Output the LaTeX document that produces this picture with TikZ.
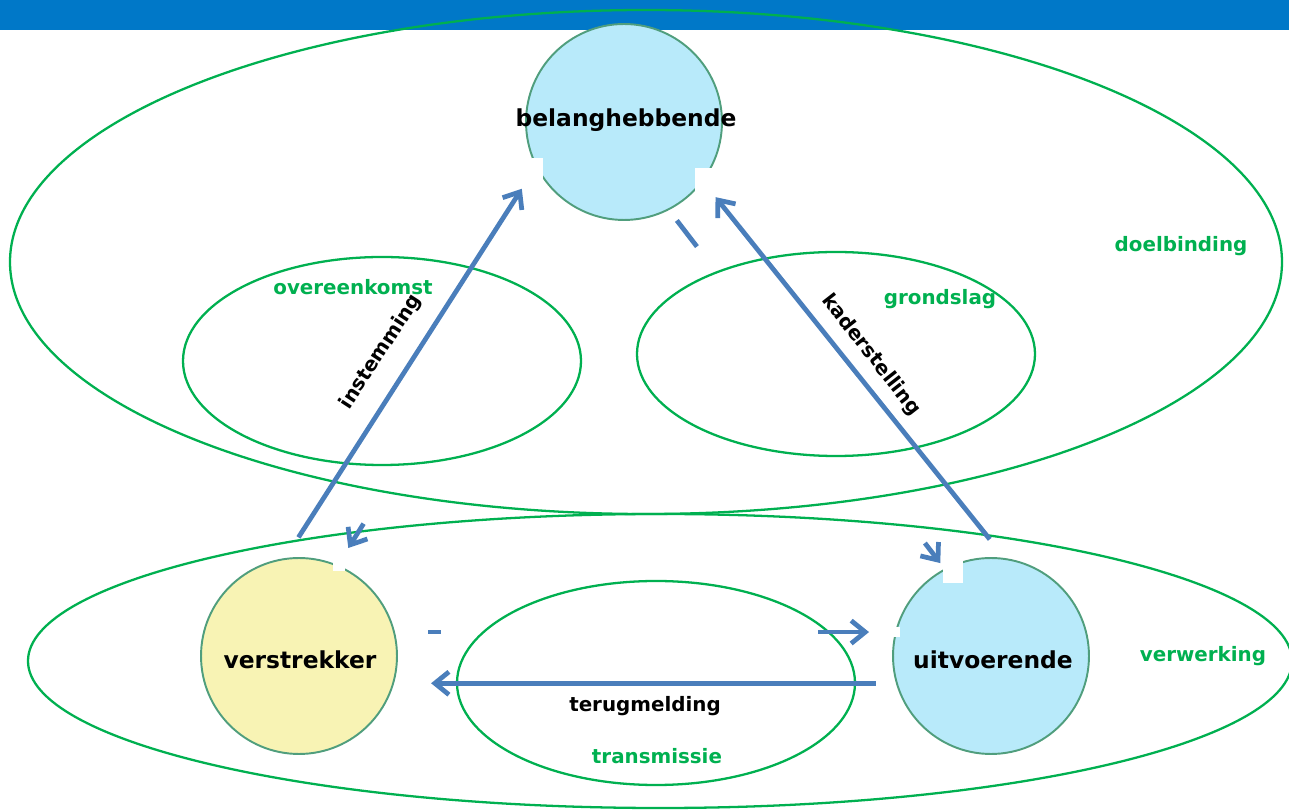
\documentclass[tikz,border=0pt]{standalone}
\usepackage{fontspec}
\setmainfont{DejaVu Sans}
\usetikzlibrary{positioning, arrows.meta}
\tikzstyle{pixelGrid} = [x = .02cm, y = -.02cm]
\definecolor{barColor}{RGB}{0,120,200}
\definecolor{areaColor}{RGB}{0,176,80}
\definecolor{flowColor}{RGB}{74,126,187}
\definecolor{roleBorder}{RGB}{80,158,125}
\definecolor{roleBlue}{RGB}{184,234,250}
\definecolor{roleYellow}{RGB}{248,243,180}
\tikzstyle{roleStyle} = [circle, draw=roleBorder, line width=1.1pt, minimum size=3.92cm, inner sep=0pt]
\tikzstyle{roleText} = [font=\fontsize{13.3}{16}\selectfont\bfseries]
\tikzstyle{areaStyle} = [draw=areaColor, line width=1.3pt]
\tikzstyle{areaText} = [font=\fontsize{11.3}{14}\selectfont\bfseries, text=areaColor]
\tikzstyle{flowText} = [font=\fontsize{11.3}{14}\selectfont\bfseries]
\tikzstyle{flowStyle} = [draw=flowColor, line width=2.7pt, -{Straight Barb[length=8pt, width=13pt]}]
\tikzstyle{patchStyle} = [fill=white, draw=none]
\newcommand{\greenArea}[3]{\draw [areaStyle] (#1) ellipse [x radius=#2, y radius=#3];}
\newcommand{\whitePatch}[2]{\fill [patchStyle] (#1) rectangle (#2);}

\begin{document}
\begin{tikzpicture}[pixelGrid]
  \useasboundingbox (0,0) rectangle (1289,810);
  \clip (0,0) rectangle (1289,810);
  \fill [barColor] (0,0) rectangle (1289,30);

  \greenArea{646,262}{636}{252}
  \greenArea{660,661}{632}{147}
  \greenArea{382,361}{199}{104}
  \greenArea{836,354}{199}{102}
  \greenArea{656,683}{199}{102}

  \node [roleStyle, fill=roleBlue] (bel) at (624,122) {};
  \node [roleStyle, fill=roleYellow] (ver) at (299,656) {};
  \node [roleStyle, fill=roleBlue] (uit) at (991,656) {};

  \whitePatch{695,168}{724,250}
  \whitePatch{532,158}{543,182}
  \whitePatch{333,556}{345,571}
  \whitePatch{891,627}{900,637}

  \draw [flowStyle, shorten <=.49cm, shorten >=.52cm] (ver.98) -- (bel.207);
  \draw [flowStyle, shorten <=.48cm, shorten >=.4cm] (uit.82) -- (bel.-37);
  \draw [flowStyle, shorten <=.26cm, shorten >=.14cm, dash pattern=on .66cm off 7.48cm on 2cm] (bel.-63) -- (uit.118);
  \draw [flowStyle, shorten >=.4cm, dash pattern=on 0cm off 7.6cm on 2cm] (bel.234) -- (ver.67);
  \draw [flowStyle, shorten <=.66cm, shorten >=.52cm, dash pattern=on .26cm off 7.54cm on 2cm] (ver.14) -- (uit.166);
  \draw [flowStyle, shorten <=.4cm, shorten >=.74cm] (uit.196) -- (ver.-16);

  \whitePatch{943,558}{963,583}

  \node [roleText] (belName) at (626,120) {belanghebbende};
  \node [roleText] (verName) at (300,660) {verstrekker};
  \node [roleText] (uitName) at (993,660) {uitvoerende};

  \node [areaText] (doelbinding) at (1181,246) {doelbinding};
  \node [areaText] (overeenkomst) at (353,287) {overeenkomst};
  \node [areaText] (grondslag) at (940,299) {grondslag};
  \node [areaText] (verwerking) at (1203,656) {verwerking};
  \node [areaText] (transmissie) at (657,756) {transmissie};

  \node [flowText, rotate=57] (instemming) at (381,352) {instemming};
  \node [flowText, rotate=-52] (kaderstelling) at (871,355) {kaderstelling};
  \node [flowText] (terugmelding) at (645,706) {terugmelding};
\end{tikzpicture}
\end{document}
